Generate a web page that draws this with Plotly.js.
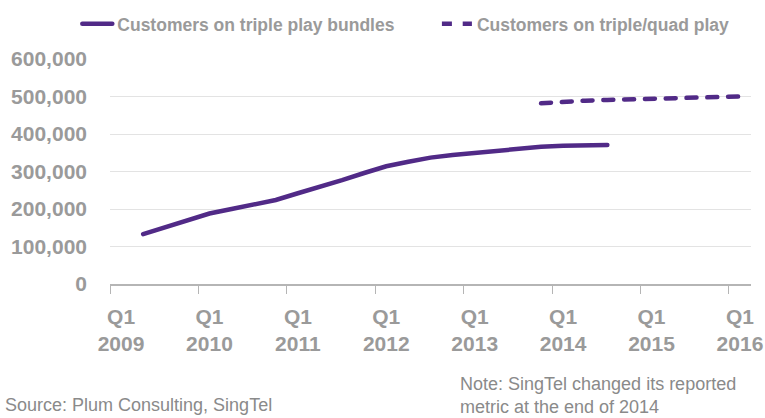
<!DOCTYPE html>
<html><head><meta charset="utf-8">
<script src="https://cdn.plot.ly/plotly-3.0.1.min.js"></script>
<style>
html,body{margin:0;padding:0;background:#fff;}
#chart{width:765px;height:418px;}
.scatterlayer .js-line, .legend .js-line { stroke-linecap: round; }
</style></head><body><div id="chart"></div>
<script>
const quarters = ["Q1 2009","Q2 2009","Q3 2009","Q4 2009",
  "Q1 2010","Q2 2010","Q3 2010","Q4 2010",
  "Q1 2011","Q2 2011","Q3 2011","Q4 2011",
  "Q1 2012","Q2 2012","Q3 2012","Q4 2012",
  "Q1 2013","Q2 2013","Q3 2013","Q4 2013",
  "Q1 2014","Q2 2014","Q3 2014","Q4 2014",
  "Q1 2015","Q2 2015","Q3 2015","Q4 2015",
  "Q1 2016"];
const tripleBundles = [null,133000,152000,170000,
  188000,200000,212000,224000,
  242000,258000,277000,296000,
  314000,326000,337000,344000,
  350000,357000,362000,366000,
  369000,370000,371000,null,
  null,null,null,null,null];
const tripleQuad = [null,null,null,null,
  null,null,null,null,
  null,null,null,null,
  null,null,null,null,
  null,null,null,482000,
  486000,489000,491000,492000,
  493000,494000,495000,497000,
  500000];
const tickQuarters = ["Q1 2009","Q1 2010","Q1 2011","Q1 2012","Q1 2013","Q1 2014","Q1 2015","Q1 2016"];
const tickLabels = ["Q1<br>2009","Q1<br>2010","Q1<br>2011","Q1<br>2012","Q1<br>2013","Q1<br>2014","Q1<br>2015","Q1<br>2016"];
const seriesNames = ["Customers on triple play bundles","Customers on triple/quad play"];

const xIdx = quarters.map((q, i) => i);
const tickIdx = tickQuarters.map(q => quarters.indexOf(q));
const boundaryIdx = tickIdx.map(i => i - 0.5);

const FONT = '"Liberation Sans", Arial, sans-serif';
const purple = '#512a87';
const gray = '#9a9a9a';

const traces = [
  {x: xIdx, y: tripleBundles, name: seriesNames[0], type: 'scatter', mode: 'lines', legend: 'legend',
   line: {color: purple, width: 4.5}, connectgaps: false, hoverinfo: 'skip'},
  {x: xIdx, y: tripleQuad, name: seriesNames[1], type: 'scatter', mode: 'lines', legend: 'legend2',
   line: {color: purple, width: 4.5, dash: '10px,10.8px'}, connectgaps: false, hoverinfo: 'skip'}
];

const legendFont = {family: FONT, size: 17.5, color: gray, weight: 'bold'};
const layout = {
  width: 765, height: 418,
  margin: {l: 110, r: 14, t: 59, b: 134},
  paper_bgcolor: '#fff', plot_bgcolor: '#fff',
  font: {family: FONT, color: gray},
  showlegend: true,
  legend: {orientation: 'h', x: -0.051, xanchor: 'left', yref: 'container', y: 0.943, yanchor: 'middle',
    font: legendFont, bgcolor: 'rgba(0,0,0,0)'},
  legend2: {orientation: 'h', x: 0.51, xanchor: 'left', yref: 'container', y: 0.943, yanchor: 'middle',
    font: legendFont, bgcolor: 'rgba(0,0,0,0)'},
  xaxis: {
    range: [-0.5, quarters.length - 0.5], fixedrange: true,
    tickmode: 'array', tickvals: tickIdx, ticktext: tickLabels,
    ticks: '', showgrid: false, zeroline: false,
    showline: true, linecolor: '#b5b5b5', linewidth: 1.5,
    tickfont: {family: FONT, size: 21, color: gray, weight: 'bold'},
    ticklabelstandoff: 13,
    minor: {tickmode: 'array', tickvals: boundaryIdx, ticks: 'outside', ticklen: 8, tickwidth: 1, tickcolor: '#b5b5b5', showgrid: false}
  },
  yaxis: {
    range: [0, 600000], fixedrange: true, dtick: 100000, tick0: 0,
    tickformat: ',d', showgrid: true, gridcolor: '#e3e3e3', gridwidth: 1,
    zeroline: false, showline: false, ticks: '',
    tickfont: {family: FONT, size: 21, color: gray, weight: 'bold'},
    ticklabelstandoff: 22
  },
  annotations: [
    {xref: 'paper', yref: 'paper', x: -0.167, y: -0.538, xanchor: 'left', yanchor: 'middle',
     text: 'Source: Plum Consulting, SingTel', showarrow: false, align: 'left',
     font: {family: FONT, size: 18, color: '#8a8a8a'}},
    {xref: 'paper', yref: 'paper', x: 0.543, y: -0.497, xanchor: 'left', yanchor: 'middle',
     text: 'Note: SingTel changed its reported<br>metric at the end of 2014', showarrow: false, align: 'left',
     font: {family: FONT, size: 18, color: '#8a8a8a'}}
  ]
};

Plotly.newPlot('chart', traces, layout, {staticPlot: true, displayModeBar: false});
</script></body></html>
